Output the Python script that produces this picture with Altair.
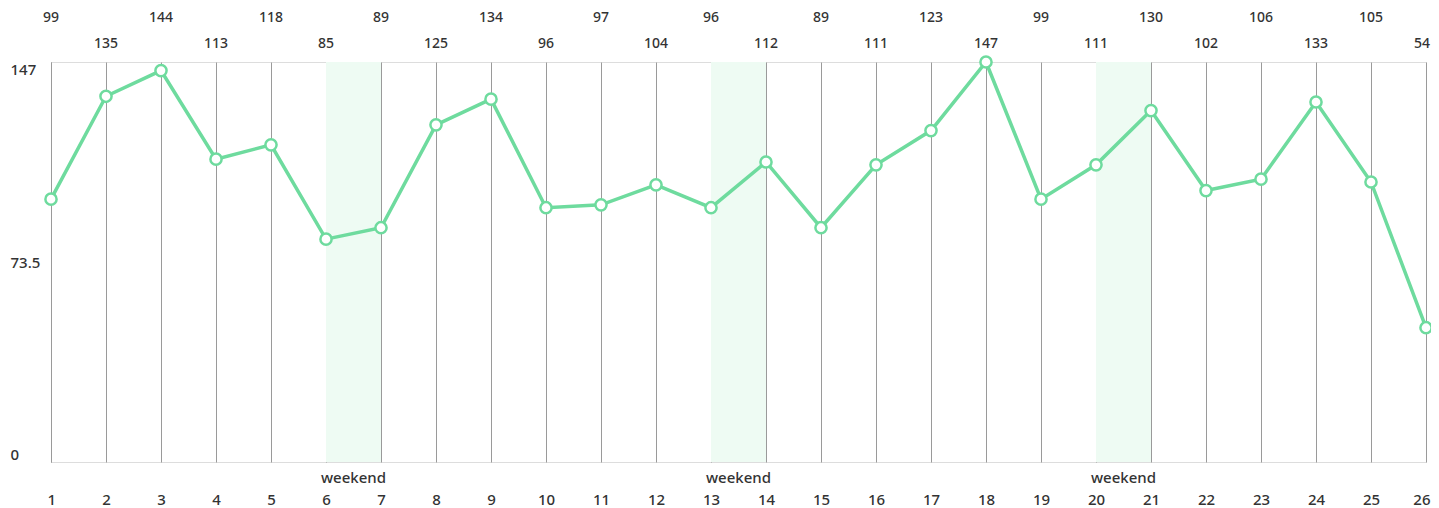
import altair as alt
import pandas as pd

days = list(range(1, 27))
values = [99, 135, 144, 113, 118, 85, 89, 125, 134, 96, 97, 104, 96, 112,
          89, 111, 123, 147, 99, 111, 130, 102, 106, 133, 105, 54]
weekend_start = [6, 13, 20]
weekend_end = [7, 14, 21]
weekend_label = ["weekend", "weekend", "weekend"]
y_ticks = [7, 77, 147]
y_tick_labels = ["0", "73.5", "147"]

df = pd.DataFrame({"day": days, "value": values})
last_day = days[-1]
df["row"] = ["last" if d == last_day else ("odd" if d % 2 else "even") for d in days]
wk = pd.DataFrame({"s": weekend_start, "e": weekend_end, "label": weekend_label})
wk["mid"] = (wk["s"] + wk["e"]) / 2

FONT = "Noto Sans"
GREEN = "#6edb9e"
GRID = "#9a9a9a"
TXT = "#333333"

label_expr = " : ".join(
    [f"datum.value == {v} ? '{l}'" for v, l in zip(y_ticks[:-1], y_tick_labels[:-1])]
) + f" : '{y_tick_labels[-1]}'"

x_scale = alt.Scale(domain=[1, 26], nice=False, zero=False)
y_scale = alt.Scale(domain=[7, 147], nice=False, zero=False)

base = alt.Chart(df)

bands = alt.Chart(wk).mark_rect(color="#eefbf3").encode(
    x=alt.X("s:Q", scale=x_scale,
            axis=alt.Axis(values=days, grid=True, gridColor=GRID, gridWidth=1,
                          domain=False, ticks=False, labelPadding=30,
                          labelFontSize=15, labelFont=FONT, labelColor=TXT,
                          labelFontWeight=500, title=None, format="d",
                          labelFlush=True, labelFlushOffset=4)),
    x2="e:Q",
    y=alt.value(0),
    y2=alt.value(400),
)

line = base.mark_line(color=GREEN, strokeWidth=3.5).encode(
    x=alt.X("day:Q", scale=x_scale),
    y=alt.Y("value:Q", scale=y_scale,
            axis=alt.Axis(values=y_ticks, labelExpr=label_expr, grid=False,
                          domain=True, domainColor=GRID, ticks=False,
                          labelAlign="left", labelPadding=41, labelFlush=True,
                          labelFontSize=15, labelFont=FONT, labelColor=TXT,
                          labelFontWeight=500, title=None)),
)

points = base.mark_point(shape="circle", filled=True, fill="white",
                         stroke=GREEN, strokeWidth=2.5, size=125,
                         opacity=1).encode(
    x=alt.X("day:Q", scale=x_scale),
    y=alt.Y("value:Q", scale=y_scale),
)

top_odd = base.transform_filter("datum.row == 'odd'").mark_text(
    font=FONT, fontSize=14, fontWeight=500, color=TXT).encode(
    x=alt.X("day:Q", scale=x_scale),
    y=alt.value(-44),
    text="value:Q",
)
top_even = base.transform_filter("datum.row == 'even'").mark_text(
    font=FONT, fontSize=14, fontWeight=500, color=TXT).encode(
    x=alt.X("day:Q", scale=x_scale),
    y=alt.value(-18),
    text="value:Q",
)
top_last = base.transform_filter("datum.row == 'last'").mark_text(
    font=FONT, fontSize=14, fontWeight=500, color=TXT, align="right",
    dx=4).encode(
    x=alt.X("day:Q", scale=x_scale),
    y=alt.value(-18),
    text="value:Q",
)

wk_text = alt.Chart(wk).mark_text(font=FONT, fontSize=15, fontWeight=500,
                                  color=TXT).encode(
    x=alt.X("mid:Q", scale=x_scale),
    y=alt.value(416),
    text="label:N",
)

chart = alt.layer(bands, line, points, top_odd, top_even, top_last,
                  wk_text).properties(
    width=1375, height=400,
    autosize=alt.AutoSizeParams(type="none"),
    padding={"left": 43, "top": 54, "right": 5, "bottom": 46},
).configure_view(stroke=GRID, strokeWidth=1).configure(background="white")

chart.save("out.html", embed_options={"renderer": "svg", "actions": False})
